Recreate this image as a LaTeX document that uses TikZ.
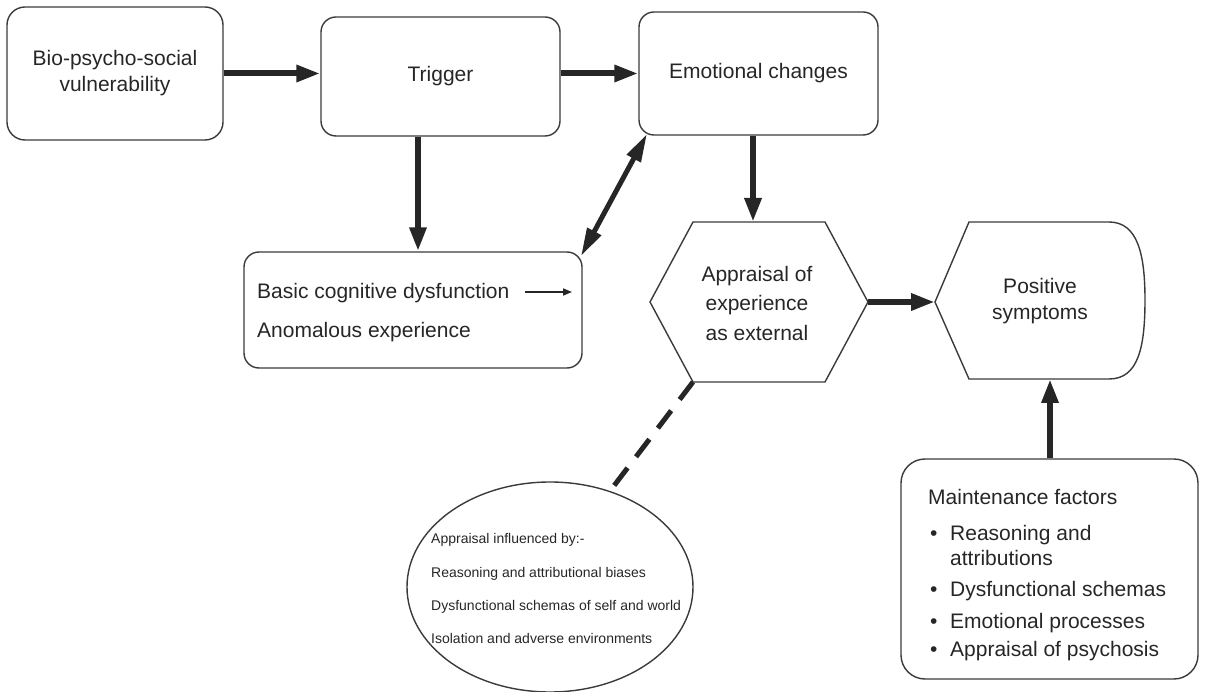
\documentclass[tikz,border=0pt]{standalone}
\usepackage{fontspec}
\setmainfont{Liberation Sans}
\usetikzlibrary{arrows.meta,shapes.geometric}
\definecolor{ink}{HTML}{262626}
\definecolor{edge}{HTML}{3A3A3A}
\newcommand\mainsz{\fontsize{21}{26}\selectfont}
\newcommand\smallsz{\fontsize{14}{17}\selectfont}
\begin{document}
\begin{tikzpicture}[x=1pt,y=-1pt,
  box/.style={draw=edge, line width=1.4pt, rounded corners=15pt, align=center, text=ink, font=\mainsz},
  outline/.style={draw=edge, line width=1.4pt, line join=miter},
  txt/.style={inner sep=0pt, text=ink, font=\mainsz},
  smalltxt/.style={inner sep=0pt, text=ink, font=\smallsz},
  bigarrow/.style={draw=ink, line width=6pt, -{Triangle[length=24pt,width=16pt]}},
  dblarrow/.style={draw=ink, line width=5pt, {Triangle[length=28pt,width=15pt]}-{Triangle[length=28pt,width=15pt]}},
  thinarrow/.style={draw=ink, line width=1.6pt, -{Triangle[length=9pt,width=7pt]}},
  dashline/.style={draw=ink, line width=5pt, dash pattern=on 22pt off 14pt}]
\useasboundingbox (0,0) rectangle (1208,692);

% top row of boxes
\node[box, rounded corners=18pt, minimum width=216pt, minimum height=133pt] (bio) at (115,73.5) {Bio-psycho-social\\vulnerability};
\node[box, minimum width=239pt, minimum height=119pt] (trig) at (440.5,76.5) {Trigger};
\node[box, minimum width=239pt, minimum height=123pt] (emo) at (758.5,73.5) {Emotional changes};

% cognitive dysfunction box
\node[box, minimum width=338pt, minimum height=116pt] (cog) at (413,310) {};
\node[txt, anchor=base west] (bcd) at (257,299) {Basic cognitive dysfunction};
\node[txt, anchor=base west] (anom) at (257,338) {Anomalous experience};
\coordinate (bcdA) at (525,292);
\coordinate (bcdB) at (572,292);
\draw[thinarrow] (bcdA) -- (bcdB);

% appraisal hexagon
\coordinate (hexNW) at (693,222);
\coordinate (hexNE) at (825,222);
\coordinate (hexE) at (868,302);
\coordinate (hexSE) at (825,382);
\coordinate (hexSW) at (693,382);
\coordinate (hexW) at (650,302);
\coordinate (hexTop) at (753,222);
\draw[outline] (hexNW) -- (hexNE) -- (hexE) -- (hexSE) -- (hexSW) -- (hexW) -- cycle;
\node[txt, align=center, font=\fontsize{21}{29.5}\selectfont] (appr) at (757,303) {Appraisal of\\experience\\as external};

% positive symptoms shape
\coordinate (posNW) at (969,222);
\coordinate (posNE) at (1109,222);
\coordinate (posE) at (1145,300);
\coordinate (posSE) at (1109,379);
\coordinate (posSW) at (969,379);
\coordinate (posW) at (935,302);
\coordinate (posS) at (1050,379);
\draw[outline] (posNW) -- (posNE) .. controls (1138,222) and (1145,255) .. (posE) .. controls (1145,348) and (1138,379) .. (posSE) -- (posSW) -- (posW) -- cycle;
\node[txt, align=center] (pos) at (1040,301) {Positive\\symptoms};

% maintenance factors box
\node[box, rounded corners=24pt, minimum width=297pt, minimum height=220pt] (maint) at (1049.5,569) {};
\node[txt, anchor=base west] (mf) at (928,504) {Maintenance factors};
\node[txt, anchor=base west] (d1) at (930,540) {\textbullet};
\node[txt, anchor=base west] (m1) at (950,540) {Reasoning and};
\node[txt, anchor=base west] (m1b) at (950,565) {attributions};
\node[txt, anchor=base west] (d2) at (930,596) {\textbullet};
\node[txt, anchor=base west] (m2) at (950,596) {Dysfunctional schemas};
\node[txt, anchor=base west] (d3) at (930,628) {\textbullet};
\node[txt, anchor=base west] (m3) at (950,628) {Emotional processes};
\node[txt, anchor=base west] (d4) at (930,656) {\textbullet};
\node[txt, anchor=base west] (m4) at (950,656) {Appraisal of psychosis};

% appraisal influences ellipse
\node[draw=edge, line width=1.4pt, ellipse, minimum width=286pt, minimum height=210pt] (ell) at (550,587) {};
\node[smalltxt, anchor=base west] (e1) at (431,543) {Appraisal influenced by:-};
\node[smalltxt, anchor=base west] (e2) at (431,577) {Reasoning and attributional biases};
\node[smalltxt, anchor=base west] (e3) at (431,610) {Dysfunctional schemas of self and world};
\node[smalltxt, anchor=base west] (e4) at (431,643) {Isolation and adverse environments};

% connectors
\coordinate (dA) at (647,134);
\coordinate (dB) at (581,256);
\draw[bigarrow] (bio.east) -- (bio.east -| trig.west);
\draw[bigarrow] (trig.east |- emo.west) -- (emo.west);
\draw[bigarrow] ([xshift=-22.5pt]trig.south) -- ([xshift=-22.5pt]trig.south |- cog.north);
\draw[bigarrow] (emo.south -| hexTop) -- (hexTop);
\draw[dblarrow] (dA) -- (dB);
\draw[bigarrow] (hexE) -- (posW);
\draw[bigarrow] (maint.north -| posS) -- (posS);
\draw[dashline] (hexSW) -- (ell.58);
\end{tikzpicture}
\end{document}
